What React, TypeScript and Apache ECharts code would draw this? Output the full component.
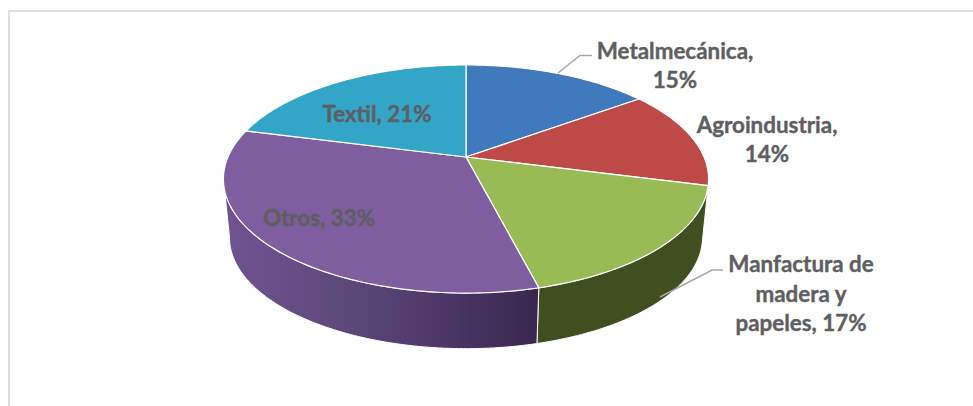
import React, { useEffect, useRef } from "react";
import * as echarts from "echarts";

const categories = ["Metalmecánica", "Agroindustria", "Manfactura de madera y papeles", "Otros", "Textil"];
const shares = [15, 14, 17, 33, 21];
const labelTexts = ["Metalmecánica,\n15%", "Agroindustria,\n14%", "Manfactura de\nmadera y\npapeles, 17%", "Otros, 33%", "Textil, 21%"];
const topColors = ["#4179BD", "#BD4A47", "#99BB55", "#7E5E9E", "#33A5C7"];

const labelAnchors = [[675, 65], [767, 139], [801, 293], [319, 217], [377, 113]];

// Perspective of the disc
const CX = 466, CY = 157, A = 238, B = 109.8, C = 0.193;
const DEPTH = 59, BOTTOM_SCALE = 0.975;
const FRONT_START = 101.1, FRONT_END = 258.9;

const rim = (deg: number, bottom: boolean) => {
  const t = (deg * Math.PI) / 180;
  const u = Math.sin(t), v = Math.cos(t);
  const d = 1 + C * v;
  const s = bottom ? BOTTOM_SCALE : 1;
  return [CX + (s * A * u) / d, CY + (s * -B * v) / d + (bottom ? DEPTH : 0)];
};
const arc = (a: number, b: number, bottom: boolean) => {
  const out: number[][] = [];
  const n = Math.max(2, Math.ceil(Math.abs(b - a)));
  for (let i = 0; i <= n; i++) out.push(rim(a + ((b - a) * i) / n, bottom));
  return out;
};
const total = shares.reduce((s, x) => s + x, 0);
const startAngle = (i: number) => (shares.slice(0, i).reduce((s, x) => s + x, 0) / total) * 360;
const endAngle = (i: number, v: number) => startAngle(i) + (v / total) * 360;

const wallFill = (i: number) => {
  if (i === 3)
    return new echarts.graphic.LinearGradient(0, 0, 1, 0, [
      { offset: 0, color: "#6E5492" },
      { offset: 0.35, color: "#5F4A7C" },
      { offset: 0.7, color: "#4C3768" },
      { offset: 1, color: "#39274F" },
    ]);
  if (i === 2) return "#3F4F20";
  return "#6E2A28";
};

export default function App() {
  const ref = useRef<HTMLDivElement>(null);
  useEffect(() => {
    document.body.style.margin = "0";
    const chart = echarts.init(ref.current!, null, { renderer: "svg" });
    const data = categories.map((name, i) => ({ name, value: [shares[i], i] }));
    chart.setOption({
      animation: false,
      backgroundColor: "#fff",
      graphic: [
        { type: "line", z: 1, shape: { x1: 9, y1: 11, x2: 973, y2: 11 }, style: { stroke: "#DDDDDD", lineWidth: 2 } },
        { type: "line", z: 1, shape: { x1: 9, y1: 10, x2: 9, y2: 406 }, style: { stroke: "#DDDDDD", lineWidth: 2 } },
        { type: "polyline", z: 20, shape: { points: [[558, 73], [580, 55.5], [592, 55.5]] }, style: { fill: "none", stroke: "#A6A6A6", lineWidth: 1.5 } },
        { type: "polyline", z: 20, shape: { points: [[660, 297], [712, 270], [723, 270]] }, style: { fill: "none", stroke: "#A6A6A6", lineWidth: 1.5 } },
      ],
      series: [
        {
          type: "custom",
          coordinateSystem: "none",
          z: 2,
          data,
          renderItem: (_p: any, api: any) => {
            const v = api.value(0), i = api.value(1);
            const a = Math.max(startAngle(i), FRONT_START);
            const b = Math.min(endAngle(i, v), FRONT_END);
            if (b <= a) return { type: "group", children: [] };
            const pts = [...arc(a, b, false), ...arc(b, a, true)];
            return {
              type: "polygon",
              shape: { points: pts },
              style: { fill: wallFill(i), stroke: "#fff", lineWidth: 1 },
            };
          },
        },
        {
          type: "custom",
          coordinateSystem: "none",
          z: 3,
          data,
          renderItem: (_p: any, api: any) => {
            const v = api.value(0), i = api.value(1);
            const pts = [[CX, CY], ...arc(startAngle(i), endAngle(i, v), false)];
            return {
              type: "polygon",
              shape: { points: pts },
              style: { fill: topColors[i], stroke: "#fff", lineWidth: 1.2, lineJoin: "round" },
            };
          },
        },
        {
          type: "custom",
          coordinateSystem: "none",
          z: 10,
          data,
          renderItem: (_p: any, api: any) => {
            const i = api.value(1);
            return {
              type: "text",
              x: labelAnchors[i][0],
              y: labelAnchors[i][1],
              style: {
                text: labelTexts[i],
                fill: "#5E5F62",
                stroke: "#5E5F62",
                lineWidth: 0.4,
                font: 'bold 22.4px Lato, "Open Sans", sans-serif',
                lineHeight: 29.5,
                align: "center",
                verticalAlign: "middle",
              },
            };
          },
        },
      ],
    });
    return () => chart.dispose();
  }, []);
  return <div ref={ref} style={{ width: 973, height: 406, background: "#fff" }} />;
}
